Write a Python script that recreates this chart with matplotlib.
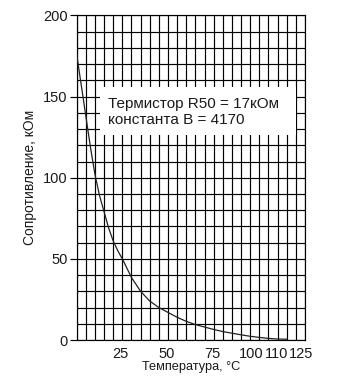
import numpy as np
import matplotlib
matplotlib.use("Agg")
import matplotlib.pyplot as plt
import matplotlib.transforms as mtransforms
from matplotlib.patches import Rectangle

plt.rcParams['font.family'] = ['Liberation Sans', 'DejaVu Sans']

# thermistor curve, temperature (C) -> resistance (kOhm)
temp = [0, 2.5, 5, 7.5, 10, 12.5, 15, 17.5, 20, 22.5, 25, 30, 35, 40, 45, 50,
        55, 60, 65, 70, 75, 80, 85, 90, 95, 100, 105, 110, 115]
res = [176, 157, 138, 119, 102, 89, 79, 69, 61, 55, 50, 38.5, 30, 24, 20, 17,
       14, 11.5, 9.5, 8, 6.5, 5.2, 4.2, 3.2, 2.3, 1.6, 1.0, 0.6, 0.5]

x_ticks = [25, 50, 75, 100, 110, 125]
x_tick_shift = [-2, -1, -1, -8, -1, -4]   # px, labels 100/110 sit tight together
y_ticks = [0, 50, 100, 150, 200]

note = "Термистор R50 = 17кОм\nконстанта В = 4170"

fig = plt.figure(figsize=(3.43, 3.87), dpi=100)
ax = fig.add_axes([0.2236, 0.1214, 0.6656, 0.8387])

ax.set_xlim(0, 125)
ax.set_ylim(0, 200)

# grid: every 5 C and every 10 kOhm
ax.set_xticks(np.arange(0, 126, 5), minor=True)
ax.set_yticks(np.arange(0, 201, 10), minor=True)
ax.grid(which='both', color='black', linewidth=0.85)
ax.tick_params(which='minor', length=0)
ax.set_axisbelow(True)

ax.set_xticks(x_ticks)
ax.set_xticklabels([str(t) for t in x_ticks])
ax.set_yticks(y_ticks)
ax.tick_params(axis='x', which='major', length=0, pad=5, labelsize=10.5,
               labelcolor='#1a1a1a')
ax.tick_params(axis='y', which='major', length=5, width=0.85, pad=1.5,
               labelsize=10.5, labelcolor='#1a1a1a')
for lab, dx in zip(ax.get_xticklabels(), x_tick_shift):
    lab.set_transform(lab.get_transform() +
                      mtransforms.ScaledTranslation(dx / 100, 0, fig.dpi_scale_trans))

for s in ax.spines.values():
    s.set_color('black')
    s.set_linewidth(0.85)

ax.plot(temp, res, color='#222222', linewidth=0.9, zorder=3)

# white field behind the note
ax.add_patch(Rectangle((12.8, 126.5), 107.4, 29.1, facecolor='white',
                       edgecolor='none', zorder=2.5))
ax.text(17.2, 140.5, note, fontsize=11, color='#1a1a1a', va='center', ha='left',
        linespacing=1.22, zorder=4)

ax.set_xlabel("Температура, °С", fontsize=9.2, color='#1a1a1a', labelpad=0)
ax.set_ylabel("Сопротивление, кОм", fontsize=10, color='#1a1a1a', labelpad=4)

fig.savefig("out.png", dpi=100)
